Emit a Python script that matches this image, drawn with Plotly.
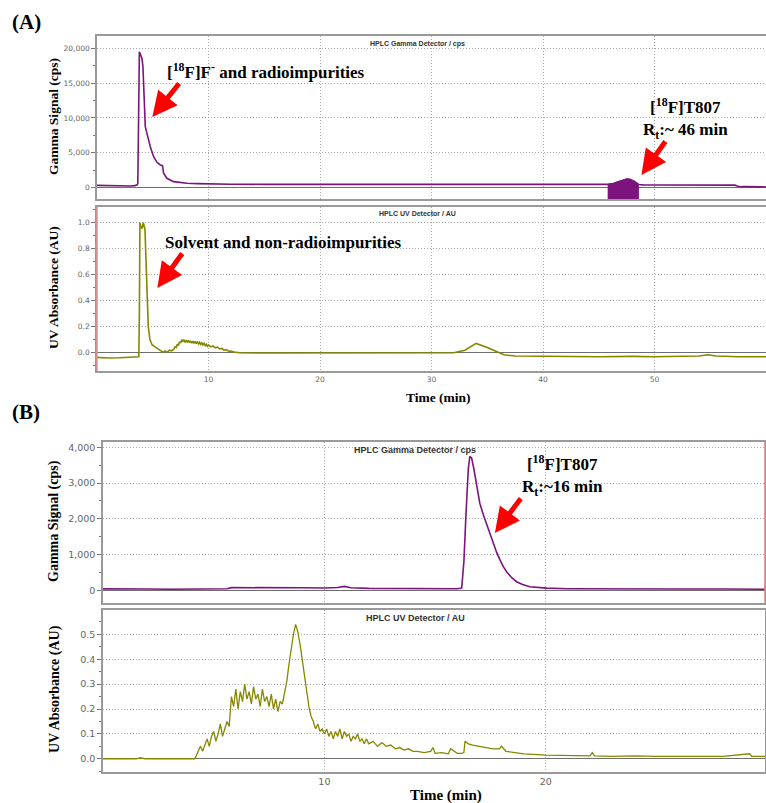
import numpy as np
import plotly.graph_objects as go

W, H = 766, 803

# ---------------- data ----------------
# (A) gamma detector, cps
gamma_a_time = [0.0, 0.5, 1.0, 1.5, 2.0, 2.5, 3.0, 3.4, 3.6, 3.66, 3.72, 3.8, 3.9, 4.03, 4.12, 4.24, 4.33,
                4.48, 4.78, 5.08, 5.38, 5.68, 5.8, 5.88, 5.97, 6.27, 6.87, 8.07, 9.0, 10.0, 12.0, 15.0,
                20.0, 25.0, 30.0, 35.0, 40.0, 44.0, 45.5, 45.8, 46.3, 46.8, 47.2, 47.5, 47.8, 48.2, 48.6,
                49.0, 50.0, 52.0, 55.0, 57.2, 57.5, 57.7, 58.0, 59.0, 60.0]
gamma_a_cps = [330, 300, 260, 230, 220, 230, 250, 300, 420, 600, 8000, 19500, 19100, 18560, 17360, 12580, 8750,
               7800, 5880, 4450, 3640, 3260, 3250, 3160, 2070, 1350, 870, 630, 580, 540, 500, 480,
               470, 460, 450, 440, 420, 400, 390, 480, 600, 900, 1150, 1250, 1200, 900, 450,
               400, 390, 390, 380, 370, 200, 140, 160, 120, 110]
peak_a_window = [45.8, 48.6]

# (A) UV detector, AU
uv_a_time = [0.0, 1.0, 2.0, 3.0, 3.75, 3.8, 3.85, 3.95, 4.05, 4.15, 4.3, 4.4, 4.5, 4.6, 4.75, 4.95, 5.3,
             5.6, 5.9, 6.1, 6.3, 6.5, 6.7, 6.9, 7.0, 7.1, 7.2, 7.3, 7.4, 7.5, 7.6, 7.7, 7.8, 7.9, 8.0,
             8.1, 8.2, 8.3, 8.4, 8.5, 8.6, 8.7, 8.8, 8.9, 9.0, 9.1, 9.2, 9.3, 9.4, 9.5, 9.6, 9.7, 9.8,
             9.9, 10.0, 10.2, 10.4, 10.6, 10.8, 11.0, 11.2, 11.4, 11.6, 11.8, 12.0, 12.3, 12.8, 15.0,
             20.0, 25.0, 30.0, 32.0, 33.0, 34.0, 35.0, 35.8, 36.5, 37.5, 40.0, 42.0, 45.0, 48.0, 50.0,
             54.0, 54.8, 55.5, 57.5, 60.0]
uv_a_au = [-0.035, -0.04, -0.038, -0.035, -0.03, 0.3, 1.0, 0.96, 0.96, 1.0, 0.95, 0.7, 0.4, 0.2, 0.1, 0.06, 0.04,
           0.02, 0.005, 0.015, 0.005, 0.02, 0.015, 0.03, 0.045, 0.04, 0.065, 0.055, 0.085, 0.075, 0.1, 0.085, 0.1, 0.08, 0.097,
           0.08, 0.095, 0.078, 0.092, 0.075, 0.09, 0.072, 0.088, 0.07, 0.085, 0.068, 0.08, 0.064, 0.077, 0.06, 0.072, 0.055, 0.066,
           0.05, 0.06, 0.045, 0.052, 0.038, 0.044, 0.03, 0.034, 0.02, 0.024, 0.012, 0.014, 0.005, 0.0, -0.002,
           0.0, -0.002, 0.0, 0.0, 0.02, 0.072, 0.04, 0.01, -0.015, -0.025, -0.028, -0.025, -0.03, -0.028, -0.03,
           -0.025, -0.015, -0.025, -0.03, -0.03]

# (B) gamma detector, cps
gamma_b_time = [0.0, 1.0, 2.0, 3.0, 4.0, 5.0, 5.6, 5.8, 7.0, 8.0, 9.0, 10.0, 10.6, 10.9, 11.2, 12.0, 13.0,
                14.0, 15.0, 16.0, 16.2, 16.3, 16.4, 16.5, 16.57, 16.65, 16.75, 16.87, 17.02, 17.17, 17.32,
                17.47, 17.62, 17.78, 17.93, 18.08, 18.23, 18.45, 18.68, 18.95, 19.28, 19.6, 20.03, 21.0,
                22.0, 24.0, 26.0, 28.0, 30.0]
gamma_b_cps = [40, 45, 35, 30, 35, 40, 45, 75, 80, 85, 70, 65, 80, 110, 70, 55, 50,
               50, 45, 45, 60, 800, 2200, 3400, 3750, 3700, 3400, 2990, 2430, 2130, 1870,
               1560, 1315, 1060, 850, 660, 520, 360, 240, 160, 100, 75, 60, 45,
               40, 40, 35, 35, 30]

# (B) UV detector, AU
uv_b_time = [0.0, 1.5, 1.7, 1.9, 4.15, 4.2, 4.3, 4.4, 4.5, 4.6, 4.7, 4.8, 4.9, 5.0, 5.1, 5.2, 5.3, 5.4, 5.5,
             5.6, 5.7, 5.8, 5.9, 6.0, 6.1, 6.2, 6.3, 6.4, 6.5, 6.6, 6.7, 6.8, 6.9, 7.0, 7.1, 7.2, 7.3, 7.4,
             7.5, 7.6, 7.7, 7.8, 7.9, 8.0, 8.1, 8.2, 8.3, 8.4, 8.5, 8.6, 8.7, 8.8, 8.9, 9.0, 9.1, 9.2, 9.3,
             9.4, 9.5, 9.6, 9.7, 9.8, 9.9, 10.0, 10.1, 10.2, 10.3, 10.4, 10.5, 10.6, 10.7, 10.8, 10.9, 11.0,
             11.1, 11.2, 11.3, 11.4, 11.5, 11.6, 11.7, 11.8, 11.9, 12.0, 12.2, 12.4, 12.6, 12.8, 13.0, 13.2,
             13.4, 13.6, 13.8, 14.0, 14.2, 14.5, 14.8, 14.9, 15.0, 15.3, 15.6, 15.7, 16.0, 16.2, 16.3, 16.35,
             16.5, 16.7, 17.0, 17.3, 17.6, 17.9, 18.0, 18.2, 18.6, 19.0, 20.0, 21.0, 22.0, 22.1, 22.2, 23.0,
             24.0, 25.0, 26.0, 27.0, 28.0, 29.2, 29.3, 30.0]
uv_b_au = [0.0, 0.0, 0.004, 0.0, 0.0, 0.01, 0.03, 0.05, 0.03, 0.06, 0.08, 0.05, 0.09, 0.11, 0.07, 0.10, 0.14, 0.09, 0.12,
           0.15, 0.13, 0.25, 0.21, 0.28, 0.20, 0.27, 0.23, 0.30, 0.24, 0.27, 0.22, 0.29, 0.24, 0.26, 0.21, 0.28, 0.23, 0.25,
           0.21, 0.26, 0.20, 0.24, 0.19, 0.23, 0.22, 0.27, 0.31, 0.38, 0.45, 0.50, 0.54, 0.51, 0.46, 0.40, 0.32, 0.26, 0.21,
           0.17, 0.15, 0.12, 0.14, 0.11, 0.12, 0.10, 0.12, 0.09, 0.11, 0.08, 0.11, 0.09, 0.12, 0.08, 0.11, 0.09,
           0.10, 0.07, 0.09, 0.08, 0.10, 0.07, 0.08, 0.06, 0.08, 0.06, 0.07, 0.05, 0.065, 0.05, 0.055, 0.04,
           0.045, 0.035, 0.04, 0.03, 0.03, 0.025, 0.03, 0.045, 0.022, 0.025, 0.02, 0.04, 0.022, 0.022, 0.025, 0.07,
           0.06, 0.055, 0.05, 0.045, 0.04, 0.04, 0.05, 0.03, 0.025, 0.02, 0.015, 0.013, 0.012, 0.025, 0.012, 0.01,
           0.012, 0.01, 0.01, 0.012, 0.01, 0.02, 0.01, 0.01]

# axis ticks
gamma_a_ticks = [0, 5000, 10000, 15000, 20000]
uv_a_ticks = [0.0, 0.2, 0.4, 0.6, 0.8, 1.0]
gamma_b_ticks = [0, 1000, 2000, 3000, 4000]
uv_b_ticks = [0.0, 0.1, 0.2, 0.3, 0.4, 0.5]
x_a_ticks = [10, 20, 30, 40, 50, 60]
x_b_ticks = [10, 20, 30]

# ---------------- styling ----------------
PURPLE = "rgb(125,20,125)"
OLIVE = "rgb(135,135,0)"
FRAME = "#9a9a9a"
GRID = "#a8a8a8"
GRIDDASH = "1px,2px"
SERIF = "Liberation Serif"


def px(x):
    return x / W


def py(y):
    return 1 - y / H


fig = go.Figure()

# floor for integrated peak fill in panel A gamma
gamma_a_range = [-1620, 21760]
ga_t = np.array(gamma_a_time)
ga_v = np.array(gamma_a_cps)
mask = (ga_t >= peak_a_window[0]) & (ga_t <= peak_a_window[1])

fig.add_trace(go.Scatter(x=[peak_a_window[0], peak_a_window[1]], y=[gamma_a_range[0]] * 2,
                         mode="lines", line=dict(width=0), xaxis="x", yaxis="y",
                         showlegend=False, hoverinfo="skip"))
fig.add_trace(go.Scatter(x=ga_t[mask], y=ga_v[mask], mode="lines", fill="tonexty",
                         fillcolor=PURPLE, line=dict(color=PURPLE, width=1),
                         xaxis="x", yaxis="y", showlegend=False))
fig.add_trace(go.Scatter(x=gamma_a_time, y=gamma_a_cps, mode="lines",
                         line=dict(color=PURPLE, width=1.6), xaxis="x", yaxis="y", showlegend=False))
fig.add_trace(go.Scatter(x=uv_a_time, y=uv_a_au, mode="lines",
                         line=dict(color=OLIVE, width=1.6), xaxis="x2", yaxis="y2", showlegend=False))
fig.add_trace(go.Scatter(x=gamma_b_time, y=gamma_b_cps, mode="lines",
                         line=dict(color=PURPLE, width=1.6), xaxis="x3", yaxis="y3", showlegend=False))
fig.add_trace(go.Scatter(x=uv_b_time, y=uv_b_au, mode="lines",
                         line=dict(color=OLIVE, width=1.3), xaxis="x4", yaxis="y4", showlegend=False))

tickfont_a = dict(family="DejaVu Sans", size=7.5, color="#666")
tickfont_b = dict(family="DejaVu Sans", size=9.5, color="#666")


def xax(domain, rng, anchor, ticks, show, font):
    return dict(domain=domain, range=rng, anchor=anchor, tickvals=ticks, showticklabels=show,
                tickfont=font, showgrid=True, gridcolor=GRID, griddash=GRIDDASH, gridwidth=1,
                zeroline=False, showline=True, mirror=True, linecolor=FRAME, linewidth=1.5,
                ticks="", fixedrange=True, automargin=False)


def yax(domain, rng, anchor, ticks, fmt, minor, font):
    return dict(domain=domain, range=rng, anchor=anchor, tickvals=ticks, tickformat=fmt,
                tickfont=font, showgrid=True, gridcolor=GRID, griddash=GRIDDASH, gridwidth=1,
                zeroline=True, zerolinecolor="#6e6e6e", zerolinewidth=1.2,
                showline=True, mirror=True, linecolor=FRAME, linewidth=1.5,
                ticks="outside", ticklen=4, tickcolor="#777",
                minor=dict(ticks="outside", ticklen=2, dtick=minor, tickcolor="#777", showgrid=False),
                fixedrange=True, automargin=False)


xa_dom = [px(97), 1.0]
xb_dom = [px(103), px(765)]

fig.update_layout(
    width=W, height=H,
    margin=dict(l=0, r=0, t=0, b=0, autoexpand=False),
    paper_bgcolor="white", plot_bgcolor="white",
    xaxis=xax(xa_dom, [0, 60], "y", x_a_ticks, False, tickfont_a),
    xaxis2=xax(xa_dom, [0, 60], "y2", x_a_ticks, True, tickfont_a),
    xaxis3=xax(xb_dom, [0, 29.9], "y3", x_b_ticks, False, tickfont_b),
    xaxis4=xax(xb_dom, [0, 29.9], "y4", x_b_ticks, True, tickfont_b),
    yaxis=yax([py(199), py(36)], gamma_a_range, "x", gamma_a_ticks, ",d", 2500, tickfont_a),
    yaxis2=yax([py(371), py(207)], [-0.14, 1.12], "x2", uv_a_ticks, ".1f", 0.1, tickfont_a),
    yaxis3=yax([py(602.7), py(441.7)], [-347, 4157], "x3", gamma_b_ticks, ",d", 500, tickfont_b),
    yaxis4=yax([py(771.7), py(610)], [-0.052, 0.598], "x4", uv_b_ticks, ".1f", 0.05, tickfont_b),
)

ann = []


def text(x, y, s, size, xanchor="center", yanchor="middle", family=SERIF, color="black", angle=0):
    ann.append(dict(x=px(x), y=py(y), xref="paper", yref="paper", text=s, showarrow=False,
                    xanchor=xanchor, yanchor=yanchor, textangle=angle,
                    font=dict(family=family, size=size, color=color)))


# panel letters
text(26, 22, "<b>(A)</b>", 21)
text(26, 412, "<b>(B)</b>", 21)

# y axis titles
text(53, 117, "<b>Gamma Signal (cps)</b>", 13.5, angle=-90)
text(53, 288, "<b>UV Absorbance (AU)</b>", 13.5, angle=-90)
text(54, 521, "<b>Gamma Signal (cps)</b>", 14, angle=-90)
text(55, 689, "<b>UV Absorbance (AU)</b>", 14, angle=-90)

# x axis titles
text(438, 397, "<b>Time (min)</b>", 13.5)
text(446, 795, "<b>Time (min)</b>", 15)

# detector captions
text(417, 44, "<b>HPLC Gamma Detector / cps</b>", 7, family="Liberation Sans", color="#333")
text(417, 214, "<b>HPLC UV Detector / AU</b>", 7, family="Liberation Sans", color="#333")
text(415, 450, "<b>HPLC Gamma Detector / cps</b>", 9, family="Liberation Sans", color="#333")
text(415, 618, "<b>HPLC UV Detector / AU</b>", 9, family="Liberation Sans", color="#333")

# callout labels
text(165, 71, "<b>[<sup>18</sup>F]F<sup>-</sup> and radioimpurities</b>", 17, xanchor="left")
text(685, 118, "<b>[<sup>18</sup>F]T807<br>R<sub>t</sub>:~ 46 min</b>", 17)
text(163, 242, "<b>Solvent and non-radioimpurities</b>", 17, xanchor="left")
text(562, 475, "<b>[<sup>18</sup>F]T807<br>R<sub>t</sub>:~16 min</b>", 17)


def arrow(x, y, xref, yref, ax, ay):
    ann.append(dict(x=x, y=y, xref=xref, yref=yref, ax=ax, ay=ay, text="", showarrow=True,
                    arrowhead=2, arrowsize=1.0, arrowwidth=5, arrowcolor="red", standoff=0))


arrow(4.96, 10140, "x", "y", 28, -35)
arrow(48.83, 1820, "x", "y", 25, -35)
arrow(5.41, 0.498, "x2", "y2", 26, -36)
arrow(17.70, 1603, "x3", "y3", 27, -36)

fig.update_layout(annotations=ann)

# reddish axis accents seen in the original instrument output
fig.add_shape(type="line", xref="paper", yref="paper", x0=px(97), x1=px(97), y0=py(371), y1=py(207),
              line=dict(color="#e09090", width=1.5))
fig.add_shape(type="line", xref="paper", yref="paper", x0=px(765), x1=px(765), y0=py(602.7), y1=py(441.7),
              line=dict(color="#d98080", width=1.5))

fig.write_html("out.html", config={"displayModeBar": False},
               post_script="document.body.style.margin='0';document.body.style.overflow='hidden';")
